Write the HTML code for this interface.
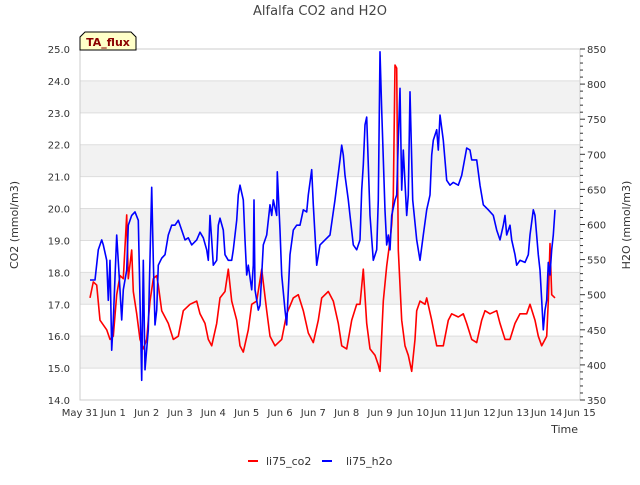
<!DOCTYPE html>
<html><head><meta charset="utf-8"><style>
body{margin:0;background:#fff;font-family:"Liberation Sans","DejaVu Sans",sans-serif;}
svg text{font-family:"DejaVu Sans","Liberation Sans",sans-serif;}
</style></head><body>
<svg id="chart" width="640" height="480" viewBox="0 0 640 480" xmlns="http://www.w3.org/2000/svg">
<rect x="0" y="0" width="640" height="480" fill="#fff"/>
<text x="320" y="15" text-anchor="middle" font-size="13" fill="#444">Alfalfa CO2 and H2O</text>
<g id="bands"></g><g id="grid"></g>
<rect x="80" y="49" width="500" height="351" fill="none" stroke="#ccc"/>
<g id="axes"></g><g id="series"></g>
<g>
<path d="M80,50 L80,37 L85,32 L131,32 L136,37 L136,50 Z" fill="#ffffc8" stroke="#000"/>
<text x="108" y="46" text-anchor="middle" font-size="11" font-weight="bold" fill="#8b0000">TA_flux</text></g>
<text transform="translate(18,225) rotate(-90)" text-anchor="middle" font-size="11" fill="#333">CO2 (mmol/m3)</text>
<text transform="translate(630,225) rotate(-90)" text-anchor="middle" font-size="11" fill="#333">H2O (mmol/m3)</text>
<text x="578" y="433" text-anchor="end" font-size="11" fill="#333">Time</text>
<g>
<g><line x1="248" y1="461" x2="258" y2="461" stroke="#f00" stroke-width="2"/><text x="266" y="465" font-size="11" fill="#333">li75_co2</text></g>
<g><line x1="322" y1="461" x2="332" y2="461" stroke="#00f" stroke-width="2"/><text x="346" y="465" font-size="11" fill="#333">li75_h2o</text></g>
</g>
</svg>
<script>
const xTickLabels=["May 31","Jun 1","Jun 2","Jun 3","Jun 4","Jun 5","Jun 6","Jun 7","Jun 8","Jun 9","Jun 10","Jun 11","Jun 12","Jun 13","Jun 14","Jun 15"];
const leftTicks=[14,15,16,17,18,19,20,21,22,23,24,25];
const rightTicks=[350,400,450,500,550,600,650,700,750,800,850];
const co2Days=[0.3,0.4,0.5,0.6,0.8,0.9,1.0,1.1,1.2,1.3,1.4,1.45,1.55,1.6,1.7,1.8,1.9,2.0,2.1,2.2,2.3,2.35,2.45,2.65,2.8,2.95,3.1,3.3,3.5,3.6,3.75,3.85,3.95,4.1,4.2,4.35,4.45,4.55,4.7,4.8,4.9,5.05,5.15,5.3,5.45,5.6,5.7,5.85,6.05,6.2,6.4,6.55,6.7,6.85,7.0,7.15,7.25,7.45,7.6,7.75,7.85,8.0,8.15,8.3,8.4,8.5,8.6,8.7,8.85,8.95,9.0,9.1,9.2,9.3,9.35,9.4,9.45,9.5,9.55,9.65,9.75,9.85,9.95,10.05,10.1,10.2,10.35,10.4,10.55,10.7,10.9,11.05,11.15,11.35,11.5,11.6,11.75,11.9,12.05,12.15,12.3,12.5,12.6,12.75,12.9,13.05,13.2,13.4,13.5,13.65,13.75,13.85,14.0,14.05,14.1,14.15,14.25];
const co2Values=[17.2,17.7,17.6,16.5,16.2,15.9,16.0,17.3,17.9,17.8,19.8,17.8,18.7,17.4,16.7,15.9,15.6,15.9,17.1,17.8,17.9,17.6,16.8,16.4,15.9,16.0,16.8,17.0,17.1,16.7,16.4,15.9,15.7,16.4,17.2,17.4,18.1,17.1,16.5,15.7,15.5,16.2,17.0,17.1,18.1,16.8,16.0,15.7,15.9,16.7,17.2,17.3,16.8,16.1,15.8,16.5,17.2,17.4,17.1,16.4,15.7,15.6,16.5,17.0,17.0,18.1,16.4,15.6,15.4,15.1,14.9,17.1,18.2,19.0,19.5,20.4,24.5,24.4,18.7,16.5,15.7,15.4,14.9,15.9,16.8,17.1,17.0,17.2,16.5,15.7,15.7,16.5,16.7,16.6,16.7,16.4,15.9,15.8,16.5,16.8,16.7,16.8,16.4,15.9,15.9,16.4,16.7,16.7,17.0,16.5,16.0,15.7,16.0,17.1,18.9,17.3,17.2];
const h2oDays=[0.3,0.45,0.55,0.65,0.7,0.8,0.85,0.9,0.95,1.0,1.1,1.2,1.25,1.3,1.4,1.45,1.55,1.65,1.75,1.8,1.85,1.9,1.95,2.05,2.15,2.2,2.25,2.3,2.35,2.45,2.55,2.65,2.75,2.85,2.95,3.05,3.15,3.25,3.35,3.5,3.6,3.7,3.8,3.85,3.9,3.95,4.0,4.1,4.15,4.2,4.3,4.35,4.45,4.55,4.6,4.7,4.75,4.8,4.9,4.95,5.0,5.05,5.15,5.2,5.22,5.25,5.35,5.4,5.45,5.5,5.6,5.7,5.75,5.8,5.9,5.92,6.0,6.05,6.15,6.2,6.3,6.4,6.5,6.6,6.7,6.8,6.85,6.95,7.0,7.1,7.2,7.35,7.5,7.65,7.8,7.85,7.9,7.95,8.05,8.1,8.2,8.3,8.4,8.45,8.5,8.55,8.6,8.65,8.7,8.8,8.9,8.95,9.0,9.05,9.15,9.2,9.25,9.3,9.35,9.45,9.5,9.55,9.6,9.65,9.7,9.8,9.85,9.9,9.98,10.1,10.2,10.3,10.4,10.5,10.55,10.6,10.7,10.75,10.8,10.9,11.0,11.1,11.2,11.35,11.45,11.6,11.7,11.75,11.9,12.0,12.1,12.25,12.4,12.5,12.6,12.7,12.75,12.8,12.9,12.95,13.05,13.1,13.2,13.35,13.45,13.5,13.6,13.65,13.75,13.8,13.85,13.9,13.95,14.0,14.05,14.1,14.15,14.2,14.25];
const h2oValues=[521,521,564,578,571,549,492,549,421,464,585,507,464,507,535,599,613,618,606,492,378,549,393,450,653,549,457,478,542,552,557,585,599,599,606,592,578,581,571,578,589,581,564,549,613,578,542,549,599,609,592,557,549,549,564,606,642,656,635,578,528,542,507,542,635,507,478,485,528,571,585,628,613,635,613,675,592,528,478,457,557,592,599,599,621,618,642,678,628,542,571,578,585,635,692,713,699,670,635,613,571,564,578,649,685,742,753,685,613,549,564,635,846,763,620,571,585,564,613,635,642,720,794,649,706,613,642,789,635,578,549,585,621,642,699,720,735,706,756,720,663,656,660,656,670,709,706,692,692,656,628,621,613,592,578,599,613,585,599,578,557,542,549,546,557,585,621,613,557,535,492,450,478,492,546,528,564,585,621];
const NS="http://www.w3.org/2000/svg";
const X0=80,X1=580,Y0=400,Y1=49;
function xs(d){return X0+(X1-X0)*d/15;}
function yL(v){return Y0-(Y0-Y1)*(v-14)/11;}
function yR(v){return Y0-(Y0-Y1)*(v-350)/500;}
function mk(tag,attrs,parent){const e=document.createElementNS(NS,tag);for(const k in attrs)e.setAttribute(k,attrs[k]);parent.appendChild(e);return e;}
const bands=document.getElementById('bands'),grid=document.getElementById('grid'),axes=document.getElementById('axes'),series=document.getElementById('series');
[15,17,19,21,23].forEach(v=>{const r=mk('rect',{x:X0,y:yL(v+1),width:X1-X0,height:yL(v)-yL(v+1),fill:'#f2f2f2'},bands);

});
leftTicks.forEach(v=>{const l=mk('line',{x1:X0,x2:X1,y1:yL(v),y2:yL(v),stroke:'#ddd'},grid);


const t=mk('text',{x:X0-10,y:yL(v)+4,'text-anchor':'end','font-size':10,fill:'#333'},axes);t.textContent=v.toFixed(1);

});
for(let v=350;v<=850;v+=10){const maj=v%50===0;const l=mk('line',{x1:X1,x2:X1+(maj?5:3),y1:yR(v),y2:yR(v),stroke:'#333'},axes);

}
rightTicks.forEach(v=>{const t=mk('text',{x:X1+7,y:yR(v)+4,'font-size':10,fill:'#333'},axes);t.textContent=v;

});
xTickLabels.forEach((s,i)=>{const t=mk('text',{x:xs(i),y:416,'text-anchor':'middle','font-size':10,fill:'#333'},axes);t.textContent=s;

});
function line(days,vals,yf,col,name){const p=mk('polyline',{points:days.map((d,i)=>xs(d).toFixed(1)+','+yf(vals[i]).toFixed(1)).join(' '),fill:'none',stroke:col,'stroke-width':1.6,'stroke-linejoin':'round'},series);

}
line(co2Days,co2Values,yL,'#f00','co2-line');
line(h2oDays,h2oValues,yR,'#00f','h2o-line');
</script>
</body></html>
